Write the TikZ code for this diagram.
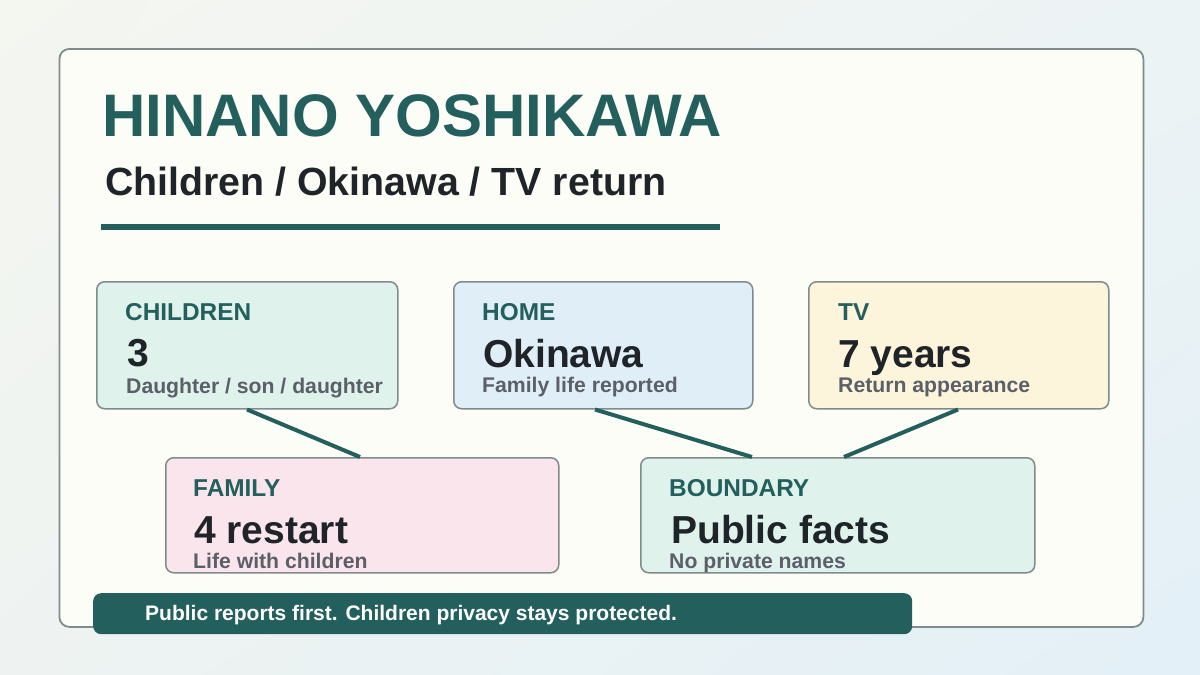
\documentclass[tikz,border=0pt]{standalone}
\usepackage{fontspec}
\setmainfont{Liberation Sans}
\usetikzlibrary{calc,shadings}
\definecolor{teal}{HTML}{235F5C}
\definecolor{ink}{HTML}{1F2428}
\definecolor{sub}{HTML}{5B6068}
\definecolor{edge}{HTML}{7F8C8D}
\definecolor{card}{HTML}{FDFDF8}
\definecolor{mint}{HTML}{DFF2EC}
\definecolor{sky}{HTML}{E0EEF8}
\definecolor{cream}{HTML}{FDF4DC}
\definecolor{pink}{HTML}{FBE5EC}
\definecolor{bgul}{HTML}{F4F6F0}
\definecolor{bgur}{HTML}{ECF3F4}
\definecolor{bgll}{HTML}{EEF3F1}
\definecolor{bglr}{HTML}{E3F0F7}
\tikzset{
  box/.style={draw=edge, line width=1.5pt, rounded corners=8pt, anchor=north west, inner sep=0pt},
  lbl/.style={anchor=base west, inner sep=0pt, text=teal, font=\fontsize{24.4}{26}\selectfont\bfseries},
  val/.style={anchor=base west, inner sep=0pt, text=ink, font=\fontsize{39}{41}\selectfont\bfseries},
  subt/.style={anchor=base west, inner sep=0pt, text=sub, font=\fontsize{21.2}{23}\selectfont\bfseries},
  link/.style={draw=teal, line width=4pt}
}
\begin{document}
\begin{tikzpicture}[x=1pt,y=-1pt]
\useasboundingbox (0,0) rectangle (1200,675);
\shade[upper left=bgul, upper right=bgur, lower left=bgll, lower right=bglr]
  (0,0) rectangle (1200,675);
\node[box, fill=card, line width=1.8pt, rounded corners=10pt, minimum width=1084pt, minimum height=578pt] (main) at (58.5,48) {};
\node[anchor=base west, inner sep=0pt, text=teal, font=\fontsize{60}{62}\selectfont\bfseries] (title) at (102,136) {HINANO YOSHIKAWA};
\node[anchor=base west, inner sep=0pt, text=ink, font=\fontsize{39.3}{41}\selectfont\bfseries] (subtitle) at (105,195) {Children / Okinawa / TV return};
\coordinate (r1) at (101,227);
\coordinate (r2) at (720,227);
\draw[teal, line width=6pt] (r1) -- (r2);

\node[box, fill=mint, minimum width=301pt, minimum height=127pt] (children) at (96,281) {};
\node[box, fill=sky, minimum width=299pt, minimum height=127pt] (home) at (453,281) {};
\node[box, fill=cream, minimum width=300pt, minimum height=127pt] (tv) at (808,281) {};
\node[box, fill=pink, minimum width=393pt, minimum height=115pt] (family) at (165,457) {};
\node[box, fill=mint, minimum width=394pt, minimum height=115pt] (boundary) at (640,457) {};

\node[lbl] (l1) at (125,320) {CHILDREN};
\node[val] (v1) at (127,366) {3};
\node[subt] (s1) at (126,393) {Daughter / son / daughter};

\node[lbl] (l2) at (482,320) {HOME};
\node[val] (v2) at (483,367) {Okinawa};
\node[subt] (s2) at (482,392) {Family life reported};

\node[lbl] (l3) at (838,320) {TV};
\node[val] (v3) at (838,367) {7 years};
\node[subt] (s3) at (838,392) {Return appearance};

\node[lbl] (l4) at (193,496) {FAMILY};
\node[val] (v4) at (194,543) {4 restart};
\node[subt] (s4) at (193,568) {Life with children};

\node[lbl] (l5) at (669,496) {BOUNDARY};
\node[val] (v5) at (671,543) {Public facts};
\node[subt] (s5) at (669,568) {No private names};

\draw[link] ([xshift=151pt]children.south west) -- ([xshift=195pt]family.north west);
\draw[link] ([xshift=142pt]home.south west) -- ([xshift=112pt]boundary.north west);
\draw[link] ([xshift=150pt]tv.south west) -- ([xshift=204pt]boundary.north west);

\node[anchor=north west, inner sep=0pt, fill=teal, rounded corners=8pt, minimum width=819pt, minimum height=41pt] (banner) at (93,593) {};
\node[anchor=base west, inner sep=0pt, text=white, font=\fontsize{21}{23}\selectfont\bfseries] (bt) at (145,620.5) {Public reports first. Children privacy stays protected.};
\end{tikzpicture}
\end{document}
